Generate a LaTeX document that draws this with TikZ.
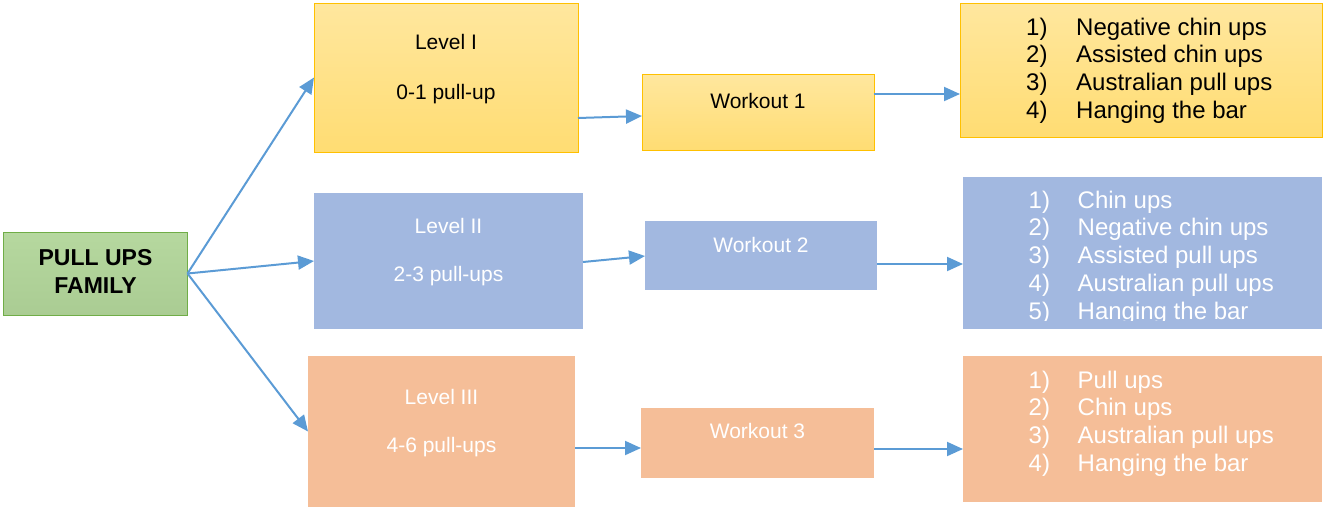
\documentclass[tikz,border=0pt]{standalone}
\usepackage{fontspec}
\setmainfont{Liberation Sans}
\usetikzlibrary{arrows.meta}
\definecolor{famfill}{HTML}{A9D18E}
\definecolor{famline}{HTML}{70AD47}
\definecolor{goldline}{HTML}{FFC000}
\definecolor{bluebox}{HTML}{A2B8E0}
\definecolor{peachbox}{HTML}{F5BE98}
\definecolor{arrblue}{HTML}{5B9BD5}
\newcommand{\lst}[2]{#1) & #2}

\begin{document}
\begin{tikzpicture}[x=1pt,y=-1pt,
    box/.style={rectangle,inner sep=0pt,outer sep=0pt},
    famstyle/.style={box,draw=famline,line width=1pt,top color=famfill!85!white,bottom color=famfill!95!black!90},
    gold/.style={box,draw=goldline,line width=1pt,top color=goldline!38!white,bottom color=goldline!55!white},
    blue/.style={box,fill=bluebox},
    peach/.style={box,fill=peachbox},
    txt/.style={inner sep=0pt,anchor=base,font=\fontsize{21}{25}\selectfont},
    lsttxt/.style={inner sep=0pt,anchor=north west,font=\fontsize{24}{27.8}\selectfont},
    arr/.style={draw=arrblue,line width=2pt,-{Triangle[length=16pt,width=14pt]}}]
  \useasboundingbox (0,0) rectangle (1324,507);
  % root
  \node[famstyle,minimum width=184pt,minimum height=83pt] (fam) at (95.5,273.5) {};
  \node[txt,font=\fontsize{23}{28}\selectfont\bfseries] (famA) at (95.5,265) {PULL UPS};
  \node[txt,font=\fontsize{23}{28}\selectfont\bfseries] (famB) at (95.5,293) {FAMILY};
  % levels
  \node[gold,minimum width=264pt,minimum height=149pt] (lvlA) at (446,77.5) {};
  \node[txt] (lvlAa) at (446,49) {Level I};
  \node[txt] (lvlAb) at (446,99) {0-1 pull-up};
  \node[blue,minimum width=269pt,minimum height=136pt] (lvlB) at (448.5,261) {};
  \node[txt,white] (lvlBa) at (448.5,233) {Level II};
  \node[txt,white] (lvlBb) at (448.5,281) {2-3 pull-ups};
  \node[peach,minimum width=267pt,minimum height=151pt] (lvlC) at (441.5,431.5) {};
  \node[txt,white] (lvlCa) at (441.5,404) {Level III};
  \node[txt,white] (lvlCb) at (441.5,452) {4-6 pull-ups};
  % workouts
  \node[gold,minimum width=232pt,minimum height=76pt] (wkA) at (758,112) {};
  \node[txt] (wkAt) at (758,108) {Workout 1};
  \node[blue,minimum width=232pt,minimum height=69pt] (wkB) at (761,255.5) {};
  \node[txt,white] (wkBt) at (761,252) {Workout 2};
  \node[peach,minimum width=233pt,minimum height=70pt] (wkC) at (757.5,443) {};
  \node[txt,white] (wkCt) at (757.5,438) {Workout 3};
  % exercise lists
  \node[gold,minimum width=362pt,minimum height=134pt] (lstA) at (1141,70) {};
  \node[lsttxt] (lstAt) at (1026,15.5) {\begin{tabular}{@{}p{50pt}@{}l@{}}
    \lst{1}{Negative chin ups}\\ \lst{2}{Assisted chin ups}\\
    \lst{3}{Australian pull ups}\\ \lst{4}{Hanging the bar}\end{tabular}};
  \node[blue,minimum width=359pt,minimum height=152pt] (lstB) at (1142.5,253) {};
  \begin{scope}
    \clip (963,177) rectangle (1322,320);
    \node[lsttxt,white] (lstBt) at (1028.5,188.5) {\begin{tabular}{@{}p{49pt}@{}l@{}}
      \lst{1}{Chin ups}\\ \lst{2}{Negative chin ups}\\ \lst{3}{Assisted pull ups}\\
      \lst{4}{Australian pull ups}\\ \lst{5}{Hanging the bar}\end{tabular}};
  \end{scope}
  \node[peach,minimum width=359pt,minimum height=146pt] (lstC) at (1142.5,429) {};
  \node[lsttxt,white] (lstCt) at (1028.5,368.5) {\begin{tabular}{@{}p{49pt}@{}l@{}}
    \lst{1}{Pull ups}\\ \lst{2}{Chin ups}\\
    \lst{3}{Australian pull ups}\\ \lst{4}{Hanging the bar}\end{tabular}};
  % connectors
  \draw[arr] (fam.east) -- (lvlA.west);
  \draw[arr] (fam.east) -- (lvlB.west);
  \draw[arr] (fam.east) -- (lvlC.west);
  \draw[arr] ([yshift=-40.5pt]lvlA.east) -- ([yshift=-4pt]wkA.west);
  \draw[arr] ([yshift=-1pt]lvlB.east) -- ([yshift=-0.5pt]wkB.west);
  \draw[arr] ([yshift=-16.5pt]lvlC.east) -- ([yshift=-5pt]wkC.west);
  \draw[arr] ([yshift=18pt]wkA.east) -- ([yshift=18pt]wkA.east -| lstA.west);
  \draw[arr] ([yshift=-8.5pt]wkB.east) -- ([yshift=-8.5pt]wkB.east -| lstB.west);
  \draw[arr] ([yshift=-6pt]wkC.east) -- ([yshift=-6pt]wkC.east -| lstC.west);
\end{tikzpicture}
\end{document}
